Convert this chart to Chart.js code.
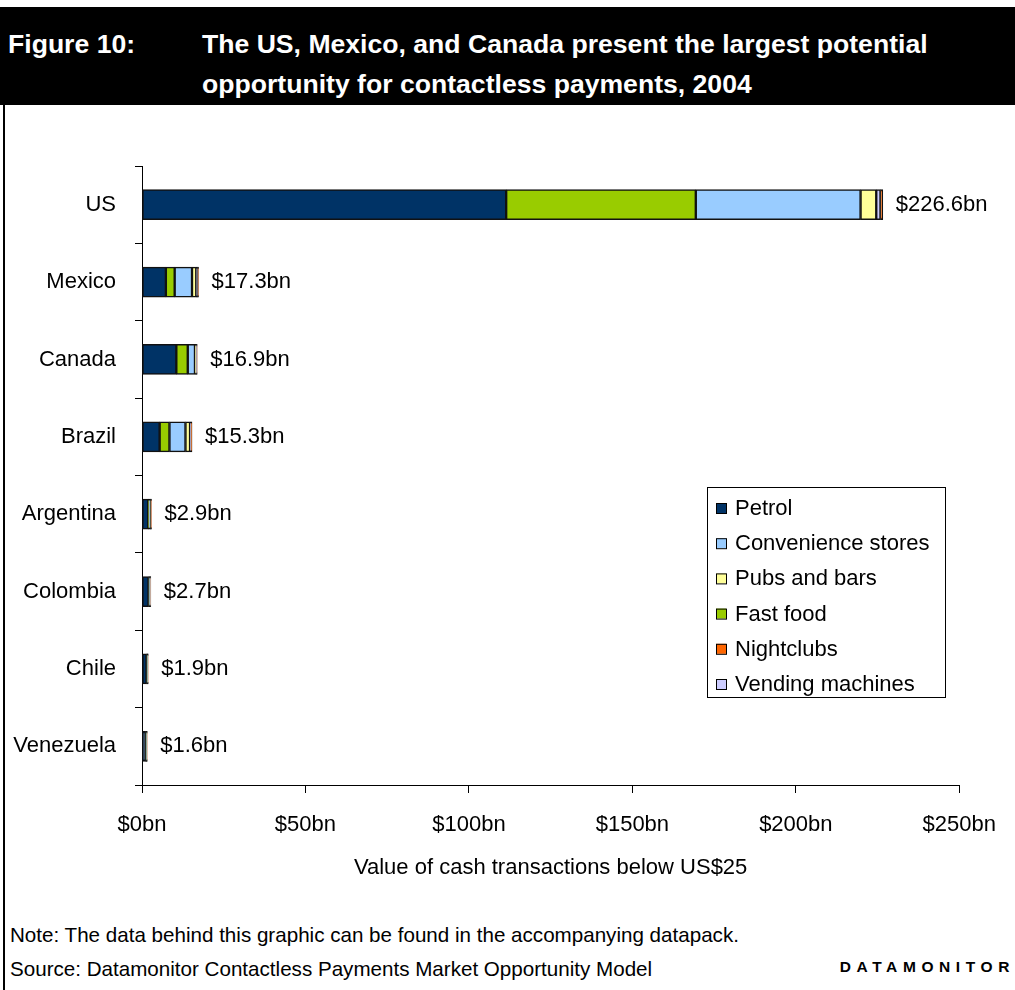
<!DOCTYPE html>
<html>
<head>
<meta charset="utf-8">
<script src="https://cdn.jsdelivr.net/npm/chart.js@4/dist/chart.umd.min.js"></script>
<style>
  body { margin: 0; background: #fff; font-family: "Liberation Sans", Arial, sans-serif; }
  #page { position: relative; width: 1015px; height: 990px; overflow: hidden; }
  #head { position: absolute; left: 0; top: 7px; width: 1015px; height: 98px; background: #000; color: #fff; font-weight: bold; font-size: 26.6px; }
  #head div { position: absolute; white-space: nowrap; }
  #rule { position: absolute; left: 3px; top: 105px; width: 2px; height: 885px; background: #000; }
  #wrap { position: absolute; left: 0; top: 105px; width: 1015px; height: 800px; }
  .foot { position: absolute; left: 10px; font-size: 20.6px; white-space: nowrap; }
  #brand { position: absolute; right: 0; top: 958px; font-size: 15.5px; font-weight: bold; letter-spacing: 5.6px; }
</style>
</head>
<body>
<div id="page">
  <div id="head">
    <div style="left:8px; top:22px;">Figure 10:</div>
    <div style="left:202px; top:22px;">The US, Mexico, and Canada present the largest potential</div>
    <div style="left:202px; top:62px;">opportunity for contactless payments, 2004</div>
  </div>
  <div id="wrap"><canvas id="graph" width="1015" height="800"></canvas></div>
  <div id="rule"></div>
  <div class="foot" style="top:923px;">Note: The data behind this graphic can be found in the accompanying datapack.</div>
  <div class="foot" style="top:957px;">Source: Datamonitor Contactless Payments Market Opportunity Model</div>
  <div id="brand">DATAMONITOR</div>
</div>
<script>
// cash transactions below US$25, 2004 (US$bn)
var countries = ["US", "Mexico", "Canada", "Brazil", "Argentina", "Colombia", "Chile", "Venezuela"];
var totals = [226.6, 17.3, 16.9, 15.3, 2.9, 2.7, 1.9, 1.6];
var petrol = [111.4, 7.3, 10.5, 5.4, 1.9, 2.0, 1.4, 1.1];
var fastFood = [58.0, 2.7, 3.5, 3.0, 0.2, 0.2, 0.2, 0.2];
var convenience = [50.4, 5.3, 2.2, 4.9, 0.5, 0.2, 0.1, 0.1];
var pubs = [4.8, 1.3, 0.3, 1.4, 0.1, 0.1, 0.1, 0.1];
var vending = [1.3, 0.4, 0.2, 0.3, 0.1, 0.1, 0.05, 0.05];
var nightclubs = [0.7, 0.3, 0.2, 0.3, 0.1, 0.1, 0.05, 0.05];
var xTicks = [0, 50, 100, 150, 200, 250];

var FONT = '"Liberation Sans", Arial, sans-serif';

function series(label, data, color) {
    return { label: label, data: data, backgroundColor: color, borderColor: "#111", borderWidth: 1.5, borderSkipped: false };
}

// stacking order along the bar
var datasets = [
    series("Petrol", petrol, "#003366"),
    series("Fast food", fastFood, "#99cc00"),
    series("Convenience stores", convenience, "#99ccff"),
    series("Pubs and bars", pubs, "#ffff99"),
    series("Vending machines", vending, "#ccccff"),
    series("Nightclubs", nightclubs, "#ff6600")
];
// order used in the key
var legendOrder = ["Petrol", "Convenience stores", "Pubs and bars", "Fast food", "Nightclubs", "Vending machines"];

// total at the end of each bar
var totalLabels = {
    id: "totalLabels",
    afterDatasetsDraw: function (chart) {
        var ctx = chart.ctx;
        var last = chart.getDatasetMeta(chart.data.datasets.length - 1);
        ctx.save();
        ctx.font = "22px " + FONT;
        ctx.fillStyle = "#000";
        ctx.textBaseline = "middle";
        ctx.textAlign = "left";
        last.data.forEach(function (bar, i) {
            ctx.fillText("$" + totals[i].toFixed(1) + "bn", bar.x + 13, bar.y);
        });
        ctx.restore();
    }
};

// boxed key inside the plot
var boxLegend = {
    id: "boxLegend",
    afterDraw: function (chart) {
        var ctx = chart.ctx;
        var x0 = 707, y0 = 382, w = 238, h = 210;
        ctx.save();
        ctx.fillStyle = "#fff";
        ctx.fillRect(x0, y0, w, h);
        ctx.strokeStyle = "#000";
        ctx.lineWidth = 1;
        ctx.strokeRect(x0 + 0.5, y0 + 0.5, w, h);
        ctx.font = "22px " + FONT;
        ctx.textBaseline = "middle";
        legendOrder.forEach(function (name, k) {
            var ds = chart.data.datasets.find(function (d) { return d.label === name; });
            var cy = y0 + 21 + k * 35.2;
            ctx.fillStyle = ds.backgroundColor;
            ctx.fillRect(x0 + 9, cy - 5, 10, 10);
            ctx.strokeStyle = "#000";
            ctx.strokeRect(x0 + 9.5, cy - 4.5, 10, 10);
            ctx.fillStyle = "#000";
            ctx.fillText(name, x0 + 28, cy + 1);
        });
        ctx.restore();
    }
};

var ctx = document.getElementById("graph").getContext("2d");
var chart = new Chart(ctx, {
    type: "bar",
    data: { labels: countries, datasets: datasets },
    plugins: [totalLabels, boxLegend],
    options: {
        indexAxis: "y",
        responsive: false,
        animation: false,
        layout: { padding: { top: 61, right: 54, left: 0, bottom: 0 } },
        barThickness: 30,
        categoryPercentage: 1,
        plugins: { legend: { display: false }, tooltip: { enabled: false } },
        scales: {
            x: {
                stacked: true,
                min: 0,
                max: 250,
                afterFit: function (scale) { scale.height = 120; },
                afterBuildTicks: function (scale) {
                    scale.ticks = xTicks.map(function (v) { return { value: v }; });
                },
                grid: { drawOnChartArea: false, color: "#000", tickLength: 8 },
                border: { color: "#000", width: 1 },
                ticks: {
                    color: "#000",
                    padding: 19,
                    maxRotation: 0,
                    font: { family: FONT, size: 22 },
                    callback: function (v) { return "$" + v + "bn"; }
                },
                title: {
                    display: true,
                    text: "Value of cash transactions below US$25",
                    color: "#000",
                    font: { family: FONT, size: 22 },
                    padding: { top: 0, bottom: 24 }
                }
            },
            y: {
                stacked: true,
                afterFit: function (scale) { scale.width = 142; },
                grid: { drawOnChartArea: false, color: "#000", tickLength: 7, offset: true },
                border: { color: "#000", width: 1 },
                ticks: { color: "#000", padding: 19, font: { family: FONT, size: 22 } }
            }
        }
    }
});
</script>
</body>
</html>
